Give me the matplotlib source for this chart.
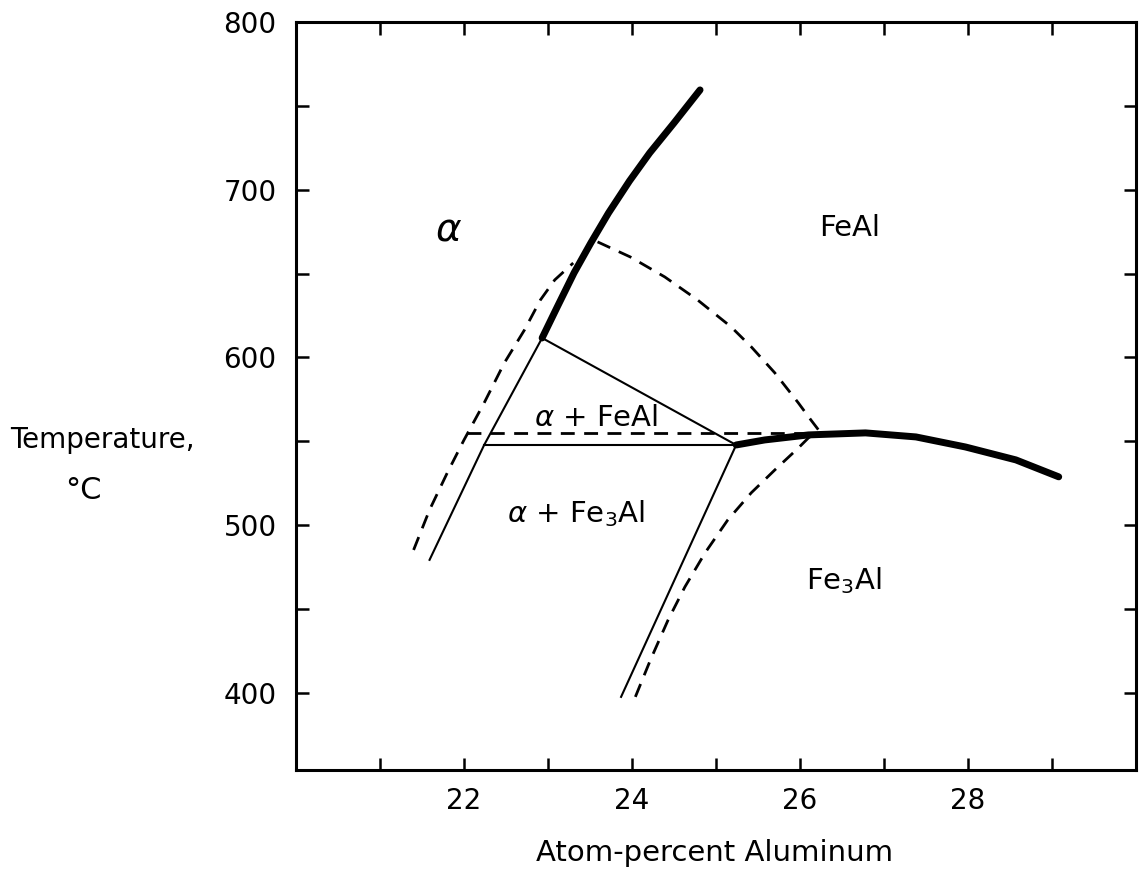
import matplotlib
matplotlib.use("Agg")
import matplotlib.pyplot as plt
from matplotlib.ticker import MultipleLocator, FixedLocator

plt.rcParams['font.family'] = ['DejaVu Sans']
plt.rcParams['mathtext.fontset'] = 'dejavusans'

# ---- data (atom-% Al, temperature degC) ----
# alpha / FeAl equilibrium boundary (heavy)
alpha_feal_x = [22.93, 23.11, 23.31, 23.51, 23.72, 23.97, 24.21, 24.50, 24.81]
alpha_feal_y = [611.6, 630.1, 650.4, 668.3, 686.1, 705.2, 721.9, 739.8, 759.5]

# FeAl / Fe3Al ordering boundary (heavy)
order_x = [25.24, 25.58, 26.10, 26.78, 27.38, 27.97, 28.57, 29.08]
order_y = [547.8, 550.8, 553.8, 555.0, 552.6, 546.6, 538.9, 528.8]

# alpha solvus below triple point (thin solid)
alpha_solvus_x = [22.93, 22.24, 21.59]
alpha_solvus_y = [611.6, 547.8, 479.3]

# Fe3Al boundary (thin solid)
fe3al_solid_x = [25.24, 23.87]
fe3al_solid_y = [547.8, 397.6]

# tie lines (thin solid)
tie_upper_x = [22.93, 25.24]
tie_upper_y = [611.6, 547.8]
tie_lower_x = [22.24, 25.24]
tie_lower_y = [548.0, 548.0]

# metastable / alternative boundaries (dashed)
dash_left_x = [21.40, 21.59, 21.80, 22.00, 22.24, 22.48, 22.72, 22.91, 23.08, 23.30]
dash_left_y = [485.2, 509.1, 531.1, 550.8, 572.9, 596.7, 616.4, 634.3, 646.2, 656.3]

dash_feal_x = [23.59, 23.98, 24.39, 24.78, 25.18, 25.42, 25.70, 25.98, 26.13, 26.22]
dash_feal_y = [668.9, 659.9, 648.0, 634.3, 618.2, 606.3, 590.8, 572.9, 562.7, 556.8]

dash_fe3al_x = [24.04, 24.22, 24.43, 24.63, 24.87, 25.14, 25.42, 25.70, 25.98, 26.10, 26.19]
dash_fe3al_y = [397.6, 419.7, 443.5, 463.2, 483.5, 503.1, 519.3, 532.9, 546.0, 552.0, 555.0]

dash_horiz_x = [22.03, 26.22]
dash_horiz_y = [555.0, 555.0]

x_ticklabels = ['22', '24', '26', '28']
x_major = [22, 24, 26, 28]
y_major = [400, 500, 600, 700, 800]

# ---- figure ----
fig = plt.figure(figsize=(11.40, 8.91), dpi=100)
W, H = 1140, 891
ax = fig.add_axes([296 / W, 1 - 770 / H, (1136 - 296) / W, (770 - 22) / H])
ax.set_xlim(20, 30)
ax.set_ylim(354, 800)

heavy = dict(color='black', lw=5.0, solid_capstyle='round', solid_joinstyle='round')
thin = dict(color='black', lw=1.5)
dashed = dict(color='black', lw=2.0, linestyle=(0, (5.0, 3.4)))

ax.plot(alpha_feal_x, alpha_feal_y, **heavy)
ax.plot(order_x, order_y, **heavy)
ax.plot(alpha_solvus_x, alpha_solvus_y, **thin)
ax.plot(fe3al_solid_x, fe3al_solid_y, **thin)
ax.plot(tie_upper_x, tie_upper_y, **thin)
ax.plot(tie_lower_x, tie_lower_y, **thin)
ax.plot(dash_left_x, dash_left_y, **dashed)
ax.plot(dash_feal_x, dash_feal_y, **dashed)
ax.plot(dash_fe3al_x, dash_fe3al_y, **dashed)
ax.plot(dash_horiz_x, dash_horiz_y, **dashed)

# region labels
lab = dict(fontsize=21, ha='center', va='center', color='black')
ax.text(21.82, 676, r'$\alpha$', fontsize=28, ha='center', va='center')
ax.text(26.59, 677, 'FeAl', **lab)
ax.text(23.57, 564, r'$\alpha$ + FeAl', **lab)
ax.text(23.33, 507, r'$\alpha$ + Fe$_3$Al', **lab)
ax.text(26.52, 467, r'Fe$_3$Al', **lab)

# ticks
ax.xaxis.set_major_locator(FixedLocator(x_major))
ax.set_xticklabels(x_ticklabels)
ax.xaxis.set_minor_locator(MultipleLocator(1))
ax.yaxis.set_major_locator(FixedLocator(y_major))
ax.yaxis.set_minor_locator(MultipleLocator(50))
ax.tick_params(which='both', direction='in', top=True, right=True,
               length=9, width=1.8, color='black')
ax.tick_params(axis='x', which='major', labelsize=20, pad=12)
ax.tick_params(axis='y', which='major', labelsize=20, pad=14)
for s in ax.spines.values():
    s.set_linewidth(2.2)

# axis titles
fig.text(10 / W, 1 - 440 / H, 'Temperature,', fontsize=20, ha='left', va='center')
fig.text(83 / W, 1 - 490 / H, '°C', fontsize=22, ha='center', va='center')
fig.text(715 / W, 1 - 853 / H, 'Atom-percent Aluminum', fontsize=21,
         ha='center', va='center')

fig.savefig('out.png', dpi=100)
